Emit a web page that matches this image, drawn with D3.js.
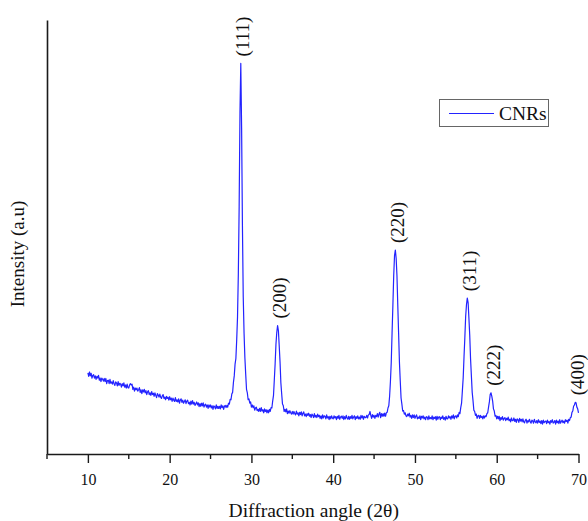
<!DOCTYPE html>
<html>
<head>
<meta charset="utf-8">
<script src="https://cdn.jsdelivr.net/npm/d3@7"></script>
<style>
  body { margin: 0; background: #fff; }
  svg { display: block; }
  text { font-family: "Liberation Serif", "Times New Roman", serif; fill: #111; }
</style>
</head>
<body>
<svg id="chart" width="588" height="521"></svg>
<script>
// XRD scan of the CNRs sample: 2θ from 10° to 70° in 0.1° steps
const angleStart = 10;
const angleStep = 0.1;
const intensity = [
  187,179,189,180,186,175,181,183,175,180, // 10
  172,179,175,181,170,175,167,175,172,168, // 11
  174,167,174,162,169,170,162,172,163,166, // 12
  161,169,162,158,166,164,157,167,158,163, // 13
  161,154,162,157,164,154,159,152,161,153, // 14
  152,159,162,159,161,149,154,145,152,148, // 15
  152,145,148,153,142,148,139,148,143,149, // 16
  141,146,137,143,146,137,141,135,144,137, // 17
  140,133,141,135,130,139,136,131,138,131, // 18
  128,134,137,128,131,125,133,128,131,124, // 19
  132,125,129,121,129,124,121,130,121,125, // 20
  120,127,117,124,127,119,124,117,121,125, // 21
  116,122,124,116,119,113,122,115,123,115, // 22
  119,112,116,120,113,118,109,116,110,117, // 23
  111,118,108,113,115,108,113,105,113,108, // 24
  113,106,111,103,111,109,104,113,105,110, // 25
  105,110,104,113,107,111,103,110,112,107, // 26
  112,108,117,115,126,125,138,142,165,180, // 27
  207,220,263,316,416,570,787,900,751,526, // 28
  361,278,222,184,149,141,125,127,117,120, // 29
  108,113,107,111,101,106,108,100,103,98,  // 30
  105,98,107,99,102,95,104,98,102,95,      // 31
  101,95,103,98,107,106,122,135,171,208,   // 32
  253,280,296,284,249,212,164,139,115,111, // 33
  98,103,97,104,93,99,94,100,95,92,        // 34
  98,92,98,93,90,99,92,95,88,96,           // 35
  91,97,88,94,97,88,92,86,93,89,           // 36
  94,87,91,84,92,89,84,93,85,89,           // 37
  84,92,86,89,82,88,81,90,83,88,           // 38
  87,81,90,83,86,79,87,81,88,83,           // 39
  81,88,83,86,79,87,82,89,80,85,           // 40
  87,82,88,79,86,81,89,83,80,87,           // 41
  80,86,82,89,81,85,88,79,86,82,           // 42
  88,81,85,80,89,83,88,80,87,84,           // 43
  84,89,83,90,91,98,89,82,91,85,           // 44
  89,82,89,86,93,85,92,96,84,93,           // 45
  87,93,87,94,87,95,96,106,111,133,        // 46
  167,211,278,342,410,457,470,451,410,342, // 47
  278,212,169,129,115,99,100,92,95,88,     // 48
  86,92,88,94,85,89,82,90,84,90,           // 49
  82,87,90,81,85,82,88,79,87,83,           // 50
  88,81,85,79,86,85,79,88,81,84,           // 51
  81,88,79,85,82,86,78,87,80,85,           // 52
  86,79,85,82,88,80,84,78,87,81,           // 53
  81,88,83,86,80,88,83,90,81,87,           // 54
  88,83,90,86,96,93,107,117,146,176,       // 55
  224,268,317,344,359,349,312,273,219,180, // 56
  142,123,101,98,89,92,82,88,89,82,        // 57
  89,84,87,81,88,83,88,86,93,95,           // 58
  108,120,137,141,133,122,104,99,87,89,    // 59
  81,87,81,87,77,84,80,86,78,82,           // 60
  84,77,82,79,85,77,80,74,83,77,           // 61
  77,83,75,80,73,81,79,73,82,76,           // 62
  80,74,81,74,72,78,80,71,77,74,           // 63
  80,74,71,78,76,71,80,74,72,77,           // 64
  71,79,73,76,70,77,69,78,72,75,           // 65
  76,70,78,72,75,69,77,73,79,71,           // 66
  73,77,69,78,72,76,70,79,71,75,           // 67
  78,72,76,71,79,75,78,71,80,77,           // 68
  84,85,96,99,110,113,119,118,108,104,     // 69
  95                                       // 70
];

// Indexed reflections
const peakAngles = [28.7, 33.2, 47.6, 56.4, 59.3, 69.6];
const peakLabels = ["(111)", "(200)", "(220)", "(311)", "(222)", "(400)"];

const xMajorTicks = [10, 20, 30, 40, 50, 60, 70];
const xMinorTicks = [5, 15, 25, 35, 45, 55, 65];
const xDomain = [5, 70];
const yDomain = [0, 1000];
const seriesName = "CNRs";
const xTitle = "Diffraction angle (2\u03B8)";
const yTitle = "Intensity (a.u)";

const svg = d3.select("#chart");
const lineColor = "#2323ff";
const axisColor = "#1a1a1a";

const plot = { left: 47, right: 578.5, top: 20, bottom: 454 };

const x = d3.scaleLinear().domain(xDomain).range([plot.left, plot.right]);
const y = d3.scaleLinear().domain(yDomain).range([plot.bottom, plot.top]);

const points = intensity.map((v, i) => [+(angleStart + i * angleStep).toFixed(1), v]);

// diffraction trace
svg.append("path")
  .datum(points)
  .attr("fill", "none")
  .attr("stroke", lineColor)
  .attr("stroke-width", 1.2)
  .attr("stroke-linejoin", "round")
  .attr("d", d3.line().x(d => x(d[0])).y(d => y(d[1])));

// x axis with major labelled ticks and unlabelled minor ticks
const xAxis = svg.append("g").attr("transform", `translate(0,${plot.bottom})`);
xAxis.call(d3.axisBottom(x).tickValues(xMajorTicks).tickSize(9).tickPadding(11).tickSizeOuter(0))
  .call(g => g.select(".domain").attr("stroke", axisColor).attr("stroke-width", 1.6))
  .call(g => g.selectAll(".tick line").attr("stroke", axisColor).attr("stroke-width", 1.4))
  .call(g => g.selectAll(".tick text")
      .attr("fill", "#111")
      .style("font-family", '"Liberation Serif","Times New Roman",serif')
      .style("font-size", "16px"));

svg.append("g").attr("transform", `translate(0,${plot.bottom})`)
  .selectAll("line").data(xMinorTicks).join("line")
  .attr("x1", d => x(d)).attr("x2", d => x(d))
  .attr("y1", 0).attr("y2", 5)
  .attr("stroke", axisColor).attr("stroke-width", 1.4);

// y axis: plain line, no ticks
const yAxis = svg.append("g").attr("transform", `translate(${plot.left},0)`);
yAxis.call(d3.axisLeft(y).tickValues([]).tickSizeOuter(0))
  .call(g => g.select(".domain").attr("stroke", axisColor).attr("stroke-width", 1.6));

// axis titles
svg.append("text")
  .attr("x", (plot.left + plot.right) / 2 + 1)
  .attr("y", 517)
  .attr("text-anchor", "middle")
  .style("font-size", "19.5px")
  .text(xTitle);

svg.append("text")
  .attr("transform", `translate(24,${(plot.top + plot.bottom) / 2 + 17}) rotate(-90)`)
  .attr("text-anchor", "middle")
  .style("font-size", "19px")
  .text(yTitle);

// reflection labels above each peak
peakAngles.forEach((a, i) => {
  const idx = Math.round((a - angleStart) / angleStep);
  const px = x(a) + 2;
  const py = y(intensity[idx]) - 7;
  svg.append("text")
    .attr("transform", `translate(${px},${py}) rotate(-90)`)
    .attr("text-anchor", "start")
    .attr("dominant-baseline", "central")
    .style("font-size", "19px")
    .text(peakLabels[i]);
});

// legend
const legend = svg.append("g").attr("transform", "translate(439,99)");
legend.append("rect")
  .attr("x", 0.5).attr("y", 0.5).attr("width", 109).attr("height", 27)
  .attr("fill", "#fff").attr("stroke", "#666").attr("stroke-width", 1);
legend.append("line")
  .attr("x1", 10).attr("x2", 55).attr("y1", 14.5).attr("y2", 14.5)
  .attr("stroke", lineColor).attr("stroke-width", 1);
legend.append("text")
  .attr("x", 60).attr("y", 21)
  .style("font-size", "19.5px")
  .text(seriesName);
</script>
</body>
</html>
